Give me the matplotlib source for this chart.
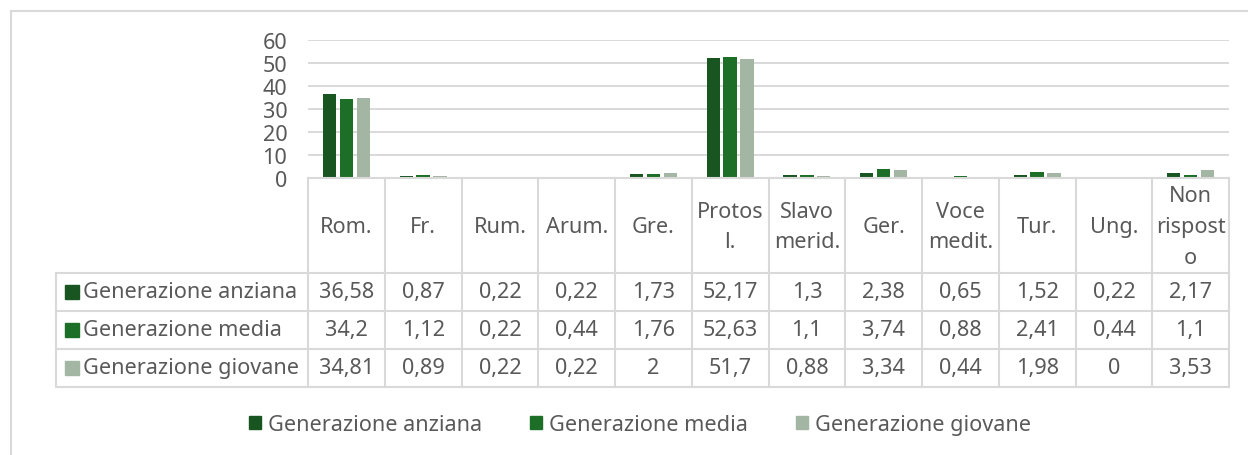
import matplotlib
matplotlib.use("Agg")
import matplotlib.pyplot as plt
from matplotlib.patches import Patch, Rectangle

plt.rcParams['font.family'] = ['Noto Sans', 'DejaVu Sans']

# data
categories = ['Rom.', 'Fr.', 'Rum.', 'Arum.', 'Gre.', 'Protos\nl.', 'Slavo\nmerid.',
              'Ger.', 'Voce\nmedit.', 'Tur.', 'Ung.', 'Non\nrispost\no']
series_names = ['Generazione anziana', 'Generazione media', 'Generazione giovane']
anziana = [36.58, 0.87, 0.22, 0.22, 1.73, 52.17, 1.3, 2.38, 0.65, 1.52, 0.22, 2.17]
media = [34.2, 1.12, 0.22, 0.44, 1.76, 52.63, 1.1, 3.74, 0.88, 2.41, 0.44, 1.1]
giovane = [34.81, 0.89, 0.22, 0.22, 2, 51.7, 0.88, 3.34, 0.44, 1.98, 0, 3.53]
y_ticks = [0, 10, 20, 30, 40, 50, 60]

series = [anziana, media, giovane]
colors = ['#195521', '#1d6e27', '#a3b5a3']
grid_c = '#d9d9d9'
txt_c = '#595959'
fs = 15.6

W, H = 1248, 456
fig = plt.figure(figsize=(W / 100, H / 100), dpi=100)


def px_axes(x0, y0, x1, y1):
    # axes from pixel box (top-left origin)
    return fig.add_axes([x0 / W, 1 - y1 / H, (x1 - x0) / W, (y1 - y0) / H])


# outer chart border
fig.patches.append(Rectangle((11 / W, -0.1), 1.2, 1 - 12 / H + 0.1, transform=fig.transFigure,
                             fill=False, edgecolor=grid_c, linewidth=1.5))

n = len(categories)
plot_l, plot_r = 308, 1229
col_w = (plot_r - plot_l) / n

# bar chart
ax = px_axes(plot_l, 41, plot_r, 179)
offs = [-0.22, 0.0, 0.22]
for vals, c, o, name in zip(series, colors, offs, series_names):
    ax.bar([i + o for i in range(n)], vals, width=0.175, color=c, label=name, zorder=3)
ax.set_xlim(-0.5, n - 0.5)
ax.set_ylim(0, 60)
ax.set_yticks(y_ticks)
ax.yaxis.grid(True, color=grid_c, linewidth=1.4, zorder=0)
ax.set_xticks([])
for s in ax.spines.values():
    s.set_visible(False)
ax.tick_params(axis='y', length=0, labelsize=fs, labelcolor=txt_c, pad=15)

# data table
head_h, row_h = 95, 38
tab_top = 179
tab_bot = tab_top + head_h + 3 * row_h
first_l = 56
tax = px_axes(first_l, tab_top, plot_r, tab_bot)
x_left = -0.5 - (plot_l - first_l) / col_w
tax.set_xlim(x_left, n - 0.5)
tax.set_ylim(tab_bot - tab_top, 0)
tax.axis('off')

lw = 1.5
# horizontal lines
tax.plot([-0.5, n - 0.5], [0, 0], color=grid_c, lw=lw, clip_on=False)
for r in range(4):
    y = head_h + r * row_h
    tax.plot([x_left, n - 0.5], [y, y], color=grid_c, lw=lw, clip_on=False)
# vertical lines
for i in range(n + 1):
    tax.plot([i - 0.5, i - 0.5], [0, tab_bot - tab_top], color=grid_c, lw=lw, clip_on=False)
tax.plot([x_left, x_left], [head_h, tab_bot - tab_top], color=grid_c, lw=lw, clip_on=False)

for i, cat in enumerate(categories):
    tax.text(i, head_h / 2 + 1, cat, ha='center', va='center', fontsize=fs, color=txt_c,
             linespacing=1.6)

for r, (vals, c, name) in enumerate(zip(series, colors, series_names)):
    yc = head_h + r * row_h + row_h / 2
    tax.plot([x_left + 0.21], [yc], marker='s', markersize=10, color=c, clip_on=False)
    tax.text(x_left + 0.35, yc, name, ha='left', va='center', fontsize=fs, color=txt_c)
    for i, v in enumerate(vals):
        tax.text(i, yc, f"{v:g}".replace('.', ','), ha='center', va='center',
                 fontsize=fs, color=txt_c)

# legend
handles = [Patch(color=c) for c in colors]
fig.legend(handles, series_names, loc='center', bbox_to_anchor=(640 / W, 1 - 426 / H),
           ncol=3, frameon=False, fontsize=fs, labelcolor=txt_c,
           handlelength=0.55, handleheight=0.55, handletextpad=0.35, columnspacing=2.2)

fig.savefig('out.png', dpi=100)
